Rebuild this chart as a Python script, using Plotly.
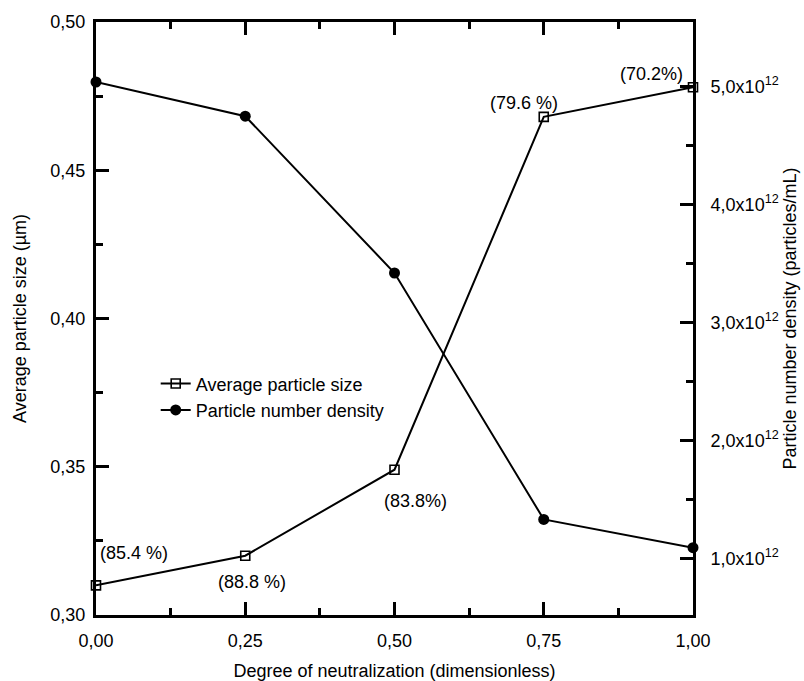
import plotly.graph_objects as go

# ---- data ----
neutralization = [0.00, 0.25, 0.50, 0.75, 1.00]
avg_size_um = [0.310, 0.320, 0.349, 0.468, 0.478]
number_density = [5.04e12, 4.75e12, 3.42e12, 1.33e12, 1.09e12]
yield_labels = ["(85.4 %)", "(88.8 %)", "(83.8%)", "(79.6 %)", "(70.2%)"]
density_tickvals = [1e12, 2e12, 3e12, 4e12, 5e12]
density_ticktext = ["1,0x10<sup>12</sup>", "2,0x10<sup>12</sup>", "3,0x10<sup>12</sup>",
                    "4,0x10<sup>12</sup>", "5,0x10<sup>12</sup>"]

# label pixel offsets (style)
label_xshift = [38, 7, 21, -20, -42]
label_yshift = [32, -26, -31, 14, 13]

FONT = "Liberation Sans, Arial, sans-serif"

fig = go.Figure()
fig.add_trace(go.Scatter(
    x=neutralization, y=avg_size_um, name="Average particle size",
    mode="lines+markers",
    line=dict(color="black", width=2),
    marker=dict(symbol="square-open", size=9, color="black", line=dict(width=1.6, color="black")),
    yaxis="y", cliponaxis=False,
))
fig.add_trace(go.Scatter(
    x=neutralization, y=number_density, name="Particle number density",
    mode="lines+markers",
    line=dict(color="black", width=2),
    marker=dict(symbol="circle", size=11, color="black"),
    yaxis="y2", cliponaxis=False,
))

for xv, yv, txt, dx, dy in zip(neutralization, avg_size_um, yield_labels, label_xshift, label_yshift):
    fig.add_annotation(x=xv, y=yv, xref="x", yref="y", text=txt, showarrow=False,
                       xshift=dx, yshift=dy, font=dict(family=FONT, size=18, color="black"))

axis_common = dict(
    showgrid=False, zeroline=False, showline=True, linecolor="black", linewidth=3,
    ticks="inside", ticklen=13, tickwidth=2.5, tickcolor="black", automargin=False,
    tickfont=dict(family=FONT, size=18, color="black"),
)

fig.update_layout(
    width=804, height=681,
    margin=dict(l=96, r=111, t=22, b=66, autoexpand=False),
    paper_bgcolor="white", plot_bgcolor="white",
    separators=", ",
    font=dict(family=FONT, size=18, color="black"),
    showlegend=True,
    legend=dict(x=0.100, y=0.421, xanchor="left", yanchor="top",
                bgcolor="rgba(0,0,0,0)", font=dict(family=FONT, size=18, color="black"),
                tracegroupgap=0, itemwidth=30),
    xaxis=dict(
        range=[0, 1], tickvals=neutralization, tickformat=".2f", mirror="ticks",
        ticklabelstandoff=7,
        minor=dict(dtick=0.125, tick0=0, ticks="inside", ticklen=7, tickwidth=2.5, tickcolor="black"),
        title=dict(text="Degree of neutralization (dimensionless)", standoff=32,
                   font=dict(family=FONT, size=18, color="black")),
        **axis_common,
    ),
    yaxis=dict(
        range=[0.30, 0.50], dtick=0.05, tick0=0.30, tickformat=".2f",
        ticklabelstandoff=4,
        minor=dict(dtick=0.025, tick0=0.30, ticks="inside", ticklen=7, tickwidth=2.5, tickcolor="black"),
        title=dict(text="Average particle size (µm)", standoff=20,
                   font=dict(family=FONT, size=18, color="black")),
        **axis_common,
    ),
    yaxis2=dict(
        overlaying="y", side="right", range=[0.519e12, 5.549e12],
        tickmode="array", tickvals=density_tickvals, ticktext=density_ticktext,
        ticklabelstandoff=11,
        minor=dict(tickvals=[1.5e12, 2.5e12, 3.5e12, 4.5e12], ticks="inside", ticklen=7,
                   tickwidth=2.5, tickcolor="black"),
        title=dict(text="Particle number density (particles/mL)", standoff=6,
                   font=dict(family=FONT, size=18, color="black")),
        **axis_common,
    ),
)

fig.write_html("out.html")
